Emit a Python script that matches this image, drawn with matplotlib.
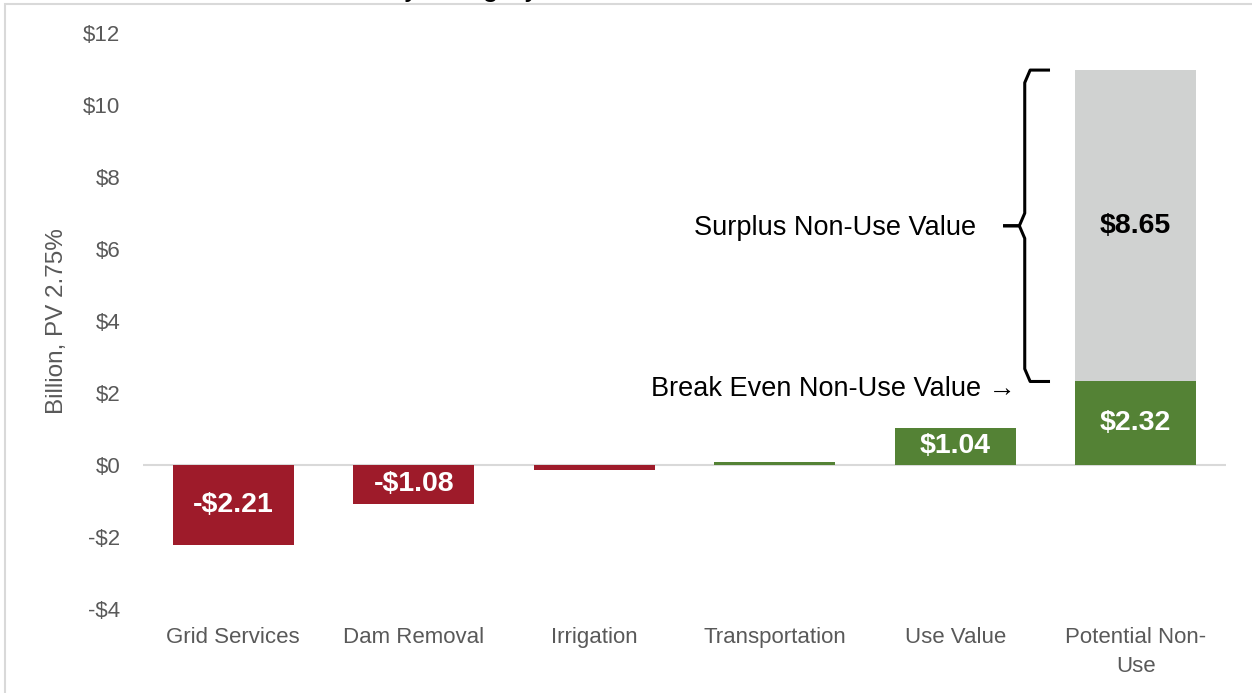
import numpy as np
import matplotlib
matplotlib.use('Agg')
import matplotlib.pyplot as plt
from matplotlib.patches import Rectangle

plt.rcParams['font.family'] = ['Liberation Sans', 'DejaVu Sans']

categories = ['Grid Services', 'Dam Removal', 'Irrigation', 'Transportation', 'Use Value', 'Potential Non-\nUse']
values = [-2.21, -1.08, -0.15, 0.08, 1.04, 2.32]
surplus = [0, 0, 0, 0, 0, 8.65]
labels = ['-$2.21', '-$1.08', '', '', '$1.04', '$2.32']
surplus_label = '$8.65'
yticks = [-4, -2, 0, 2, 4, 6, 8, 10, 12]

red = '#9E1B2A'
green = '#548235'
grey = '#D0D2D1'
tick_col = '#595959'

W, H = 1252, 693
fig = plt.figure(figsize=(W / 100, H / 100), dpi=100)
ax = fig.add_axes([143 / W, 1 - 609 / H, (1226 - 143) / W, (609 - 33) / H])

x = np.arange(len(categories))
cols = [red if v < 0 else green for v in values]
ax.bar(x, values, width=0.67, color=cols, zorder=3)
ax.bar(x, surplus, width=0.67, bottom=[max(v, 0) for v in values], color=[grey if s > 0 else 'none' for s in surplus], zorder=3)

for i, (v, lab) in enumerate(zip(values, labels)):
    if lab:
        ax.text(i, v / 2, lab, ha='center', va='center', color='white', fontsize=20.5, fontweight='bold', zorder=4)
i_s = len(values) - 1
ax.text(i_s, values[i_s] + surplus[i_s] / 2, surplus_label, ha='center', va='center', color='black',
        fontsize=20.5, fontweight='bold', zorder=4)

ax.axhline(0, color='#D9D9D9', lw=1.5, zorder=2)
ax.set_xlim(-0.5, len(categories) - 0.5)
ax.set_ylim(-4, 12)
ax.set_yticks(yticks)
ax.set_yticklabels([('-$%d' % -t) if t < 0 else '$%d' % t for t in yticks])
ax.set_xticks(x)
ax.set_xticklabels(categories, linespacing=1.5)
ax.tick_params(axis='both', length=0, colors=tick_col, labelsize=16)
ax.tick_params(axis='y', pad=16.5)
ax.tick_params(axis='x', pad=13)
for s in ax.spines.values():
    s.set_visible(False)

fig.text(57 / W, 1 - 321 / H, 'Billion, PV 2.75%', rotation=90, ha='center', va='center', color=tick_col, fontsize=17.5)

# brace beside the stacked bar
top = values[i_s] + surplus[i_s]
bot = values[i_s]
mid = (top + bot) / 2
bx = 4.385
hook = 0.14
tip = 0.12
r = 0.35
ax.plot([bx + hook, bx + 0.03, bx, bx, bx - 0.03, bx - tip], [top, top, top - r, mid + r, mid, mid],
        color='black', lw=2.2, solid_capstyle='butt', clip_on=False, zorder=5)
ax.plot([bx + hook, bx + 0.03, bx, bx, bx - 0.03, bx - tip], [bot, bot, bot + r, mid - r, mid, mid],
        color='black', lw=2.2, solid_capstyle='butt', clip_on=False, zorder=5)

ax.text(bx - 0.27, mid - 0.05, 'Surplus Non-Use Value', ha='right', va='center', fontsize=19.5, color='black')
ax.text(bx - 0.05, bot - 0.2, 'Break Even Non-Use Value \u2192', ha='right', va='center', fontsize=19.5,
        color='black', family=['Liberation Sans', 'DejaVu Sans'])

# chart frame and clipped title (only its descenders show in the reference)
fig.patches.append(Rectangle((5 / W, -0.1), 1.2, 1 - 4 / H + 0.1, transform=fig.transFigure,
                             fill=False, edgecolor='#D9D9D9', lw=1.5))
fig.text(372 / W, 1 + 4.5 / H, ', by category', ha='left', va='baseline', fontsize=21, color='black')

fig.savefig('out.png', dpi=100)
